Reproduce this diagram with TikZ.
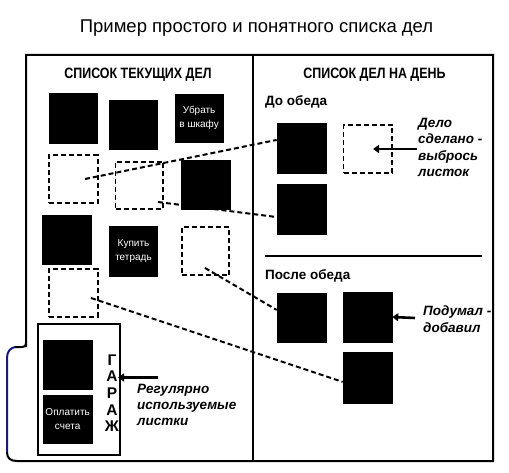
\documentclass[tikz,border=0pt]{standalone}
\usepackage{fontspec}
\setmainfont{Liberation Sans}
\newfontfamily\hdrfont[FakeStretch=0.83]{Liberation Sans}
\usetikzlibrary{fit,arrows.meta}
\definecolor{navyline}{RGB}{25,25,120}
\begin{document}
\begin{tikzpicture}[x=1pt,y=-1pt,
  blk/.style={fill=black,draw=black,line width=0.6pt,inner sep=0pt},
  dsq/.style={draw=black,line width=1.8pt,dash pattern=on 5pt off 3pt,inner sep=0pt},
  conn/.style={draw=black,line width=2pt,dash pattern=on 5pt off 3pt},
  pointer/.style={draw=black,line width=2.6pt,-{Triangle[length=6pt,width=8pt]}},
  frameline/.style={draw=black,line width=2pt},
  wtxt/.style={text=white,font=\fontsize{10}{14}\selectfont,align=center,inner sep=0pt},
  hdr/.style={anchor=base,inner sep=0pt,font=\hdrfont\bfseries\fontsize{15}{18}\selectfont},
  sub/.style={anchor=base west,inner sep=0pt,font=\bfseries\fontsize{13.5}{16}\selectfont},
  note/.style={anchor=base west,inner sep=0pt,font=\bfseries\itshape\fontsize{13.5}{16.3}\selectfont}
]
\useasboundingbox (0,0) rectangle (509,473);

% title
\node[anchor=base,inner sep=0pt,font=\fontsize{18.5}{21}\selectfont] (title) at (256.5,33) {Пример простого и понятного списка дел};

% frame
\draw[frameline] (26,347) -- (26,55) -- (493,55) -- (493,461) -- (17,461) .. controls (10,461) and (7,458) .. (7,452);
\draw[frameline] (26,343) .. controls (26,346) and (25,347) .. (22,347) -- (15,347);
\draw[draw=navyline,line width=2pt] (15,347) .. controls (10,348) and (7,352) .. (7,358) -- (7,452);
\draw[frameline] (253,55) -- (253,461);
\draw[frameline] (265,256) -- (482,256);

% headers
\node[hdr] (hl) at (138,79) {СПИСОК ТЕКУЩИХ ДЕЛ};
\node[hdr] (hr) at (374.5,79) {СПИСОК ДЕЛ НА ДЕНЬ};
\node[sub] (before) at (265,105.5) {До обеда};
\node[sub] (after) at (265,279.5) {После обеда};

% left panel
\node[blk,fit={(49,93.3) (97.7,143.3)}] (s1) {};
\node[blk,fit={(109,100) (157.7,149.3)}] (s2) {};
\node[blk,fit={(175,94) (223.3,142.3)}] (s3) {};
\node[wtxt] (s3t) at (s3.center) {Убрать\\в шкафу};
\node[dsq,fit={(49.3,155) (97.7,203.3)}] (s4) {};
\node[dsq,fit={(115.5,161.7) (163,209)}] (s5) {};
\node[blk,fit={(181.7,160) (230,209.3)}] (s6) {};
\node[blk,fit={(42.7,215) (91.7,264)}] (s7) {};
\node[blk,fit={(109.3,226) (157.7,276)}] (s8) {};
\node[wtxt] (s8t) at (s8.center) {Купить\\тетрадь};
\node[dsq,fit={(181.7,227.3) (229.3,275)}] (s9) {};
\node[dsq,fit={(49.3,269) (97.7,317)}] (s10) {};

% garage
\node[draw=black,line width=2pt,inner sep=0pt,fit={(38,324) (120,455)}] (garage) {};
\node[blk,fit={(43.3,340) (92,389.3)}] (g1) {};
\node[blk,fit={(43.3,395) (92,443.3)}] (g2) {};
\node[wtxt] (g2t) at (g2.center) {Оплатить\\счета};
\node[anchor=base,inner sep=0pt,font=\bfseries\fontsize{15.5}{16.5}\selectfont] (gword) at (112,365.5)
  {\begin{tabular}[t]{@{}c@{}}Г\\А\\Р\\А\\Ж\end{tabular}};
\node[note] (regular) at (137,393.3)
  {\begin{tabular}[t]{@{}l@{}}Регулярно\\используемые\\листки\end{tabular}};
\coordinate (ga) at (118,377.5);
\coordinate (gs) at (158,377.5);
\draw[pointer] (gs) -- (ga);

% right panel
\node[blk,fit={(277,123) (326,173)}] (r1) {};
\node[dsq,fit={(343.5,125) (392,173)}] (r2) {};
\node[blk,fit={(277,184) (326,234)}] (r3) {};
\node[blk,fit={(277,293) (326,342)}] (r4) {};
\node[blk,fit={(343,292) (392,342)}] (r5) {};
\node[blk,fit={(343,352) (392,403)}] (r6) {};

\node[note] (done) at (418,127.5)
  {\begin{tabular}[t]{@{}l@{}}Дело\\сделано -\\выбрось\\листок\end{tabular}};
\coordinate (ds) at (417,149);
\coordinate (de) at (373,149);
\draw[pointer] (ds) -- (de);

\node[note] (added) at (423,316)
  {\begin{tabular}[t]{@{}l@{}}Подумал -\\добавил\end{tabular}};
\coordinate (as) at (415,318);
\draw[pointer] (as) -- (r5.east);

% dashed connectors
\coordinate (c1) at (85,179);
\coordinate (c2) at (158,202);
\coordinate (c3) at (205,268);
\coordinate (c4) at (91,298);
\draw[conn] (c1) -- (r1.162);
\draw[conn] (c2) -- (r3.198);
\draw[conn] (c3) -- (r4.163);
\draw[conn] (c4) -- (r6.190);
\end{tikzpicture}
\end{document}
